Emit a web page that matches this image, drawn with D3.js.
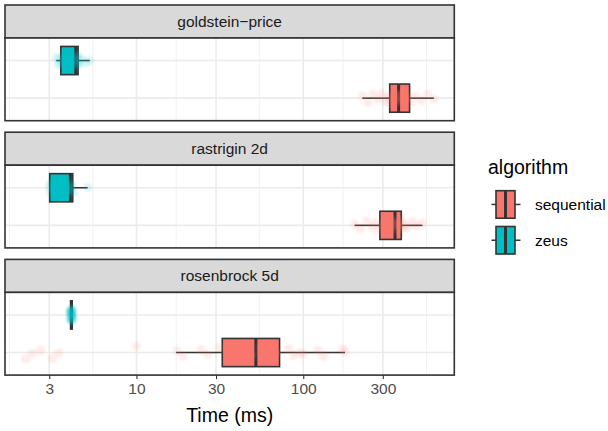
<!DOCTYPE html>
<html>
<head>
<meta charset="utf-8">
<script src="https://cdn.jsdelivr.net/npm/d3@7"></script>
<style>
  body { margin: 0; background: #fff; }
  svg { display: block; font-family: "Liberation Sans", Arial, sans-serif; }
</style>
</head>
<body>
<div id="chart"></div>
<script>
'use strict'

// facets and groups
const facets = ['goldstein−price', 'rastrigin 2d', 'rosenbrock 5d']
const algorithms = ['sequential', 'zeus']
const fills = ['#F8766D', '#00BFC4']
const xBreaks = [3, 10, 30, 100, 300]
const xMinorBreaks = [Math.sqrt(3), Math.sqrt(30), Math.sqrt(300), Math.sqrt(3000), Math.sqrt(30000), Math.sqrt(300000)]

// box stats per facet: [lower whisker, q1, median, q3, upper whisker] (ms)
const sequentialStats = [
  [226, 330, 373, 434, 607],
  [203, 288, 355, 387, 518],
  [17.3, 32.7, 52, 72.1, 178]
]
const zeusStats = [
  [3.31, 3.52, 4.33, 4.47, 5.25],
  [3.02, 3.02, 4.02, 4.15, 5.1],
  [4.0, 4.03, 4.08, 4.12, 4.15]
]

// jittered runs: [time ms, vertical jitter in category units]
const sequentialPoints = [
  [[226, 0.06], [245, -0.12], [262, 0.11], [280, -0.03], [295, 0.13], [310, -0.09], [322, 0.03],
   [333, -0.15], [342, 0.07], [350, -0.05], [358, 0.12], [365, -0.11], [372, 0.01], [380, 0.09],
   [390, -0.06], [400, 0.15], [412, -0.01], [425, 0.06], [440, -0.13], [470, 0.05], [510, -0.07],
   [555, 0.11], [607, -0.03]],
  [[203, 0.03], [220, -0.09], [240, 0.12], [258, -0.05], [272, 0.07], [285, -0.13], [295, 0.01],
   [310, 0.11], [325, -0.07], [338, 0.15], [348, -0.02], [355, 0.06], [362, -0.12], [370, 0.09],
   [378, -0.03], [385, 0.13], [392, -0.09], [405, 0.03], [425, -0.06], [450, 0.11], [480, -0.01],
   [518, 0.06]],
  [[2.16, -0.17], [2.37, -0.02], [2.66, 0.07], [3.13, -0.16], [3.41, 0.0], [10.0, 0.17],
   [17.5, 0.05], [19, -0.1], [24.2, 0.08], [26.7, -0.05], [31.9, 0.12], [36, -0.14], [40, 0.02],
   [45, 0.1], [50, -0.06], [55, 0.14], [60, -0.12], [63.7, 0.04], [70, -0.02], [81.7, 0.1],
   [87.5, -0.08], [95, 0.0], [100.5, -0.04], [122, 0.06], [132, -0.1], [172, 0.1], [178, 0.02]]
]
const zeusPoints = [
  [[3.31, 0.07], [3.4, -0.12], [3.48, 0.03], [3.55, -0.06], [3.6, 0.13], [3.68, -0.03], [3.75, 0.09],
   [3.82, -0.15], [3.9, 0.01], [3.98, 0.11], [4.05, -0.09], [4.12, 0.05], [4.2, -0.01], [4.28, 0.15],
   [4.33, -0.13], [4.38, 0.06], [4.42, -0.05], [4.46, 0.12], [4.5, -0.11], [4.7, 0.03], [4.95, -0.06],
   [5.25, 0.0]],
  [[3.02, 0.06], [3.05, -0.12], [3.1, 0.12], [3.15, -0.03], [3.22, 0.09], [3.3, -0.15], [3.4, 0.03],
   [3.5, -0.07], [3.6, 0.13], [3.7, -0.01], [3.8, 0.07], [3.88, -0.11], [3.95, 0.02], [4.0, 0.12],
   [4.05, -0.06], [4.1, 0.05], [4.15, -0.13], [5.1, 0.01]],
  [[4.0, 0.06], [4.02, -0.12], [4.03, 0.13], [4.05, -0.03], [4.06, 0.09], [4.07, -0.15], [4.08, 0.01],
   [4.09, 0.11], [4.1, -0.07], [4.11, 0.15], [4.12, -0.01], [4.13, 0.05], [4.15, -0.11]]
]

const config = {
  width: 608,
  height: 431,
  left: 5,
  right: 454.3,
  top: 5,
  stripH: 33,
  panelH: 82.7,
  gap: 11.5,
  boxW: 0.75
}

function draw () {
  let {width, height, left, right, stripH, panelH, gap, boxW} = config
  let topY = config.top

  let svg = d3.select('#chart').append('svg')
    .attr('width', width)
    .attr('height', height)

  // soft edge for the faint jitter dots
  svg.append('defs').append('filter')
    .attr('id', 'soft')
    .attr('x', '-50%').attr('y', '-50%').attr('width', '200%').attr('height', '200%')
    .append('feGaussianBlur').attr('stdDeviation', 0.8)

  // x: log10 scale, range of all values expanded by 5% on each side
  let allVals = []
  sequentialPoints.concat(zeusPoints).forEach(g => g.forEach(p => allVals.push(p[0])))
  sequentialStats.concat(zeusStats).forEach(s => s.forEach(v => allVals.push(v)))
  let lo = Math.log10(d3.min(allVals))
  let hi = Math.log10(d3.max(allVals))
  let pad = (hi - lo) * 0.05
  let x = d3.scaleLog()
    .domain([Math.pow(10, lo - pad), Math.pow(10, hi + pad)])
    .range([left, right])

  let grid = {major: '#EBEBEB', minor: '#F2F2F2'}

  facets.forEach((name, fi) => {
    let stripTop = topY + fi * (stripH + panelH + gap)
    let pTop = stripTop + stripH
    let pBottom = pTop + panelH
    // category 1 = sequential (bottom), 2 = zeus (top)
    let y = d3.scaleLinear().domain([0.4, 2.6]).range([pBottom, pTop])

    let g = svg.append('g').attr('class', 'facet')

    // strip
    g.append('rect')
      .attr('x', left).attr('y', stripTop)
      .attr('width', right - left).attr('height', stripH)
      .attr('fill', '#D9D9D9')
      .attr('stroke', '#333333').attr('stroke-width', 1.6)
    g.append('text')
      .attr('x', (left + right) / 2)
      .attr('y', stripTop + stripH / 2)
      .attr('dy', '0.35em')
      .attr('text-anchor', 'middle')
      .attr('font-size', 15.5)
      .attr('fill', '#1A1A1A')
      .text(name)

    // panel background + grid
    g.append('rect')
      .attr('x', left).attr('y', pTop)
      .attr('width', right - left).attr('height', panelH)
      .attr('fill', '#fff')

    let inside = v => x(v) > left && x(v) < right
    g.selectAll('line.minor').data(xMinorBreaks.filter(inside)).enter().append('line')
      .attr('x1', d => x(d)).attr('x2', d => x(d))
      .attr('y1', pTop).attr('y2', pBottom)
      .attr('stroke', grid.minor).attr('stroke-width', 1.1)
    g.selectAll('line.major').data(xBreaks).enter().append('line')
      .attr('x1', d => x(d)).attr('x2', d => x(d))
      .attr('y1', pTop).attr('y2', pBottom)
      .attr('stroke', grid.major).attr('stroke-width', 1.6)
    g.selectAll('line.hgrid').data([1, 2]).enter().append('line')
      .attr('x1', left).attr('x2', right)
      .attr('y1', d => y(d)).attr('y2', d => y(d))
      .attr('stroke', grid.major).attr('stroke-width', 1.6)

    // boxes
    let stats = [sequentialStats[fi], zeusStats[fi]]
    stats.forEach((s, ai) => {
      let cy = y(ai + 1)
      let half = y(0) - y(boxW / 2)
      let bg = g.append('g').attr('class', 'box ' + algorithms[ai])
      bg.append('line')
        .attr('x1', x(s[0])).attr('x2', x(s[1]))
        .attr('y1', cy).attr('y2', cy)
        .attr('stroke', '#333333').attr('stroke-width', 1.5)
      bg.append('line')
        .attr('x1', x(s[3])).attr('x2', x(s[4]))
        .attr('y1', cy).attr('y2', cy)
        .attr('stroke', '#333333').attr('stroke-width', 1.5)
      bg.append('rect')
        .attr('x', x(s[1])).attr('y', cy - half)
        .attr('width', Math.max(x(s[3]) - x(s[1]), 0.5))
        .attr('height', 2 * half)
        .attr('fill', fills[ai])
        .attr('stroke', '#333333').attr('stroke-width', 1.6)
      bg.append('line')
        .attr('x1', x(s[2])).attr('x2', x(s[2]))
        .attr('y1', cy - half).attr('y2', cy + half)
        .attr('stroke', '#333333').attr('stroke-width', 3)
    })

    // jittered points on top
    let pts = [sequentialPoints[fi], zeusPoints[fi]]
    pts.forEach((list, ai) => {
      g.append('g').attr('filter', 'url(#soft)')
        .selectAll('circle').data(list).enter().append('circle')
        .attr('cx', d => x(d[0]))
        .attr('cy', d => y(ai + 1 + d[1]))
        .attr('r', 4.5)
        .attr('fill', fills[ai])
        .attr('fill-opacity', ai === 1 && fi === 2 ? 0.22 : 0.14)
    })

    // panel border
    g.append('rect')
      .attr('x', left).attr('y', pTop)
      .attr('width', right - left).attr('height', panelH)
      .attr('fill', 'none')
      .attr('stroke', '#333333').attr('stroke-width', 1.6)

    // bottom axis on last facet
    if (fi === facets.length - 1) {
      let axis = svg.append('g')
        .attr('transform', `translate(0, ${pBottom})`)
        .call(d3.axisBottom(x).tickValues(xBreaks).tickFormat(d3.format('d')).tickSize(4).tickPadding(4))
      axis.select('.domain').remove()
      axis.selectAll('line').attr('stroke', '#333333').attr('stroke-width', 1.1)
      axis.selectAll('text')
        .attr('font-size', 15.5)
        .attr('fill', '#4D4D4D')
        .attr('font-family', '"Liberation Sans", Arial, sans-serif')
      svg.append('text')
        .attr('x', (left + right) / 2)
        .attr('y', 415)
        .attr('dy', '0.35em')
        .attr('text-anchor', 'middle')
        .attr('font-size', 19.5)
        .attr('fill', '#000')
        .text('Time (ms)')
    }
  })

  // legend
  let legend = svg.append('g').attr('class', 'legend')
  legend.append('text')
    .attr('x', 488).attr('y', 174)
    .attr('font-size', 19.5)
    .attr('fill', '#000')
    .text('algorithm')

  let keyTops = [190.7, 226.5]
  algorithms.forEach((a, i) => {
    let ky = keyTops[i]
    let kh = 27.5
    let mid = ky + kh / 2
    legend.append('line')
      .attr('x1', 491.5).attr('x2', 520.5)
      .attr('y1', mid).attr('y2', mid)
      .attr('stroke', '#333333').attr('stroke-width', 1.5)
    legend.append('rect')
      .attr('x', 496).attr('y', ky)
      .attr('width', 19).attr('height', kh)
      .attr('fill', fills[i])
      .attr('stroke', '#333333').attr('stroke-width', 1.6)
    legend.append('line')
      .attr('x1', 505.5).attr('x2', 505.5)
      .attr('y1', ky).attr('y2', ky + kh)
      .attr('stroke', '#333333').attr('stroke-width', 3)
    legend.append('text')
      .attr('x', 535).attr('y', mid)
      .attr('dy', '0.35em')
      .attr('font-size', 15.5)
      .attr('fill', '#000')
      .text(a)
  })
}

draw()
</script>
</body>
</html>
